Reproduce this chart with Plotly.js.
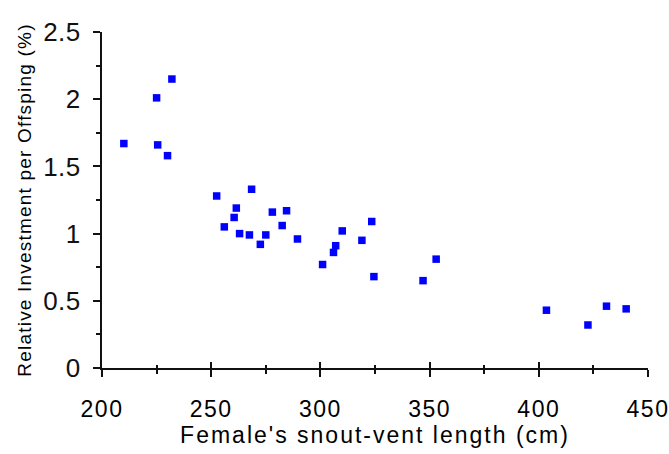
<!DOCTYPE html>
<html>
<head>
<meta charset="utf-8">
<script src="https://cdn.plot.ly/plotly-3.0.1.min.js"></script>
<style>
html,body{margin:0;padding:0;background:#fff;}
#chart{width:669px;height:454px;}
.xtick text{letter-spacing:1.5px;}
.ytick text{letter-spacing:0.5px;}
.g-xtitle text{letter-spacing:2px;}
.g-ytitle text{letter-spacing:1.2px;}
</style>
</head>
<body>
<div id="chart"></div>
<script>
var lengthCm = [210, 225, 232, 225.5, 230, 252.5, 268.5, 256, 261.5, 260.5, 263, 267.5, 272.5, 275, 278, 284.5, 282.5, 289.5, 301, 306, 307, 310, 319, 323.5, 324.5, 353, 347, 403.5, 422.5, 431, 440];
var investment = [1.67, 2.01, 2.15, 1.66, 1.58, 1.28, 1.33, 1.05, 1.19, 1.12, 1.00, 0.99, 0.92, 0.99, 1.16, 1.17, 1.06, 0.96, 0.77, 0.86, 0.91, 1.02, 0.95, 1.09, 0.68, 0.81, 0.65, 0.43, 0.32, 0.46, 0.44];
var xTicks = [200, 250, 300, 350, 400, 450];
var yTickVals = [0, 0.5, 1, 1.5, 2, 2.5];
var yTickText = ['0', '0.5', '1', '1.5', '2', '2.5'];

var font = 'Liberation Sans, Arial, sans-serif';
var traces = [
  {x: lengthCm, y: investment, type: 'scatter', mode: 'markers',
   marker: {symbol: 'square', size: 7.5, color: '#0000ff', line: {width: 0}},
   hoverinfo: 'x+y', showlegend: false},
  {x: [], y: [], type: 'scatter', mode: 'markers', xaxis: 'x2', showlegend: false}
];
var layout = {
  width: 669, height: 454,
  margin: {l: 102, r: 21, t: 32, b: 86},
  paper_bgcolor: '#fff', plot_bgcolor: '#fff',
  showlegend: false,
  font: {family: font, color: '#000', size: 19},
  xaxis: {
    range: [200, 450], tickvals: xTicks, ticktext: xTicks.map(String),
    showgrid: false, zeroline: false, showline: true, linecolor: '#111', linewidth: 2,
    ticks: 'outside', ticklen: 7, tickwidth: 2, tickcolor: '#111',
    minor: {dtick: 25, tick0: 200, ticks: 'outside', ticklen: 4, tickwidth: 2, tickcolor: '#111', showgrid: false},
    tickfont: {family: font, size: 23, color: '#000'},
    ticklabelstandoff: 12, ticklabeloverflow: 'allow', automargin: false,
    title: {text: "Female's snout-vent length (cm)", font: {family: font, size: 23, color: '#000'}, standoff: 0},
    fixedrange: true
  },
  xaxis2: {
    overlaying: 'x', anchor: 'y', side: 'bottom', range: [200, 450],
    tickvals: xTicks, showticklabels: false, showgrid: false, zeroline: false, showline: false,
    ticks: 'inside', ticklen: 6, tickwidth: 2, tickcolor: '#111',
    minor: {dtick: 25, tick0: 200, ticks: 'inside', ticklen: 3, tickwidth: 2, tickcolor: '#111', showgrid: false},
    fixedrange: true
  },
  yaxis: {
    range: [0, 2.5], tickvals: yTickVals, ticktext: yTickText,
    showgrid: false, zeroline: false, showline: true, linecolor: '#111', linewidth: 2,
    ticks: 'outside', ticklen: 7, tickwidth: 2, tickcolor: '#111',
    minor: {dtick: 0.25, tick0: 0, ticks: 'outside', ticklen: 4, tickwidth: 2, tickcolor: '#111', showgrid: false},
    tickfont: {family: font, size: 26, color: '#111'},
    ticklabelstandoff: 7, automargin: false,
    title: {text: 'Relative Investment per Offsping (%)', font: {family: font, size: 19, color: '#000'}, standoff: 6},
    fixedrange: true
  }
};
Plotly.newPlot('chart', traces, layout, {displayModeBar: false, staticPlot: true});
</script>
</body>
</html>
